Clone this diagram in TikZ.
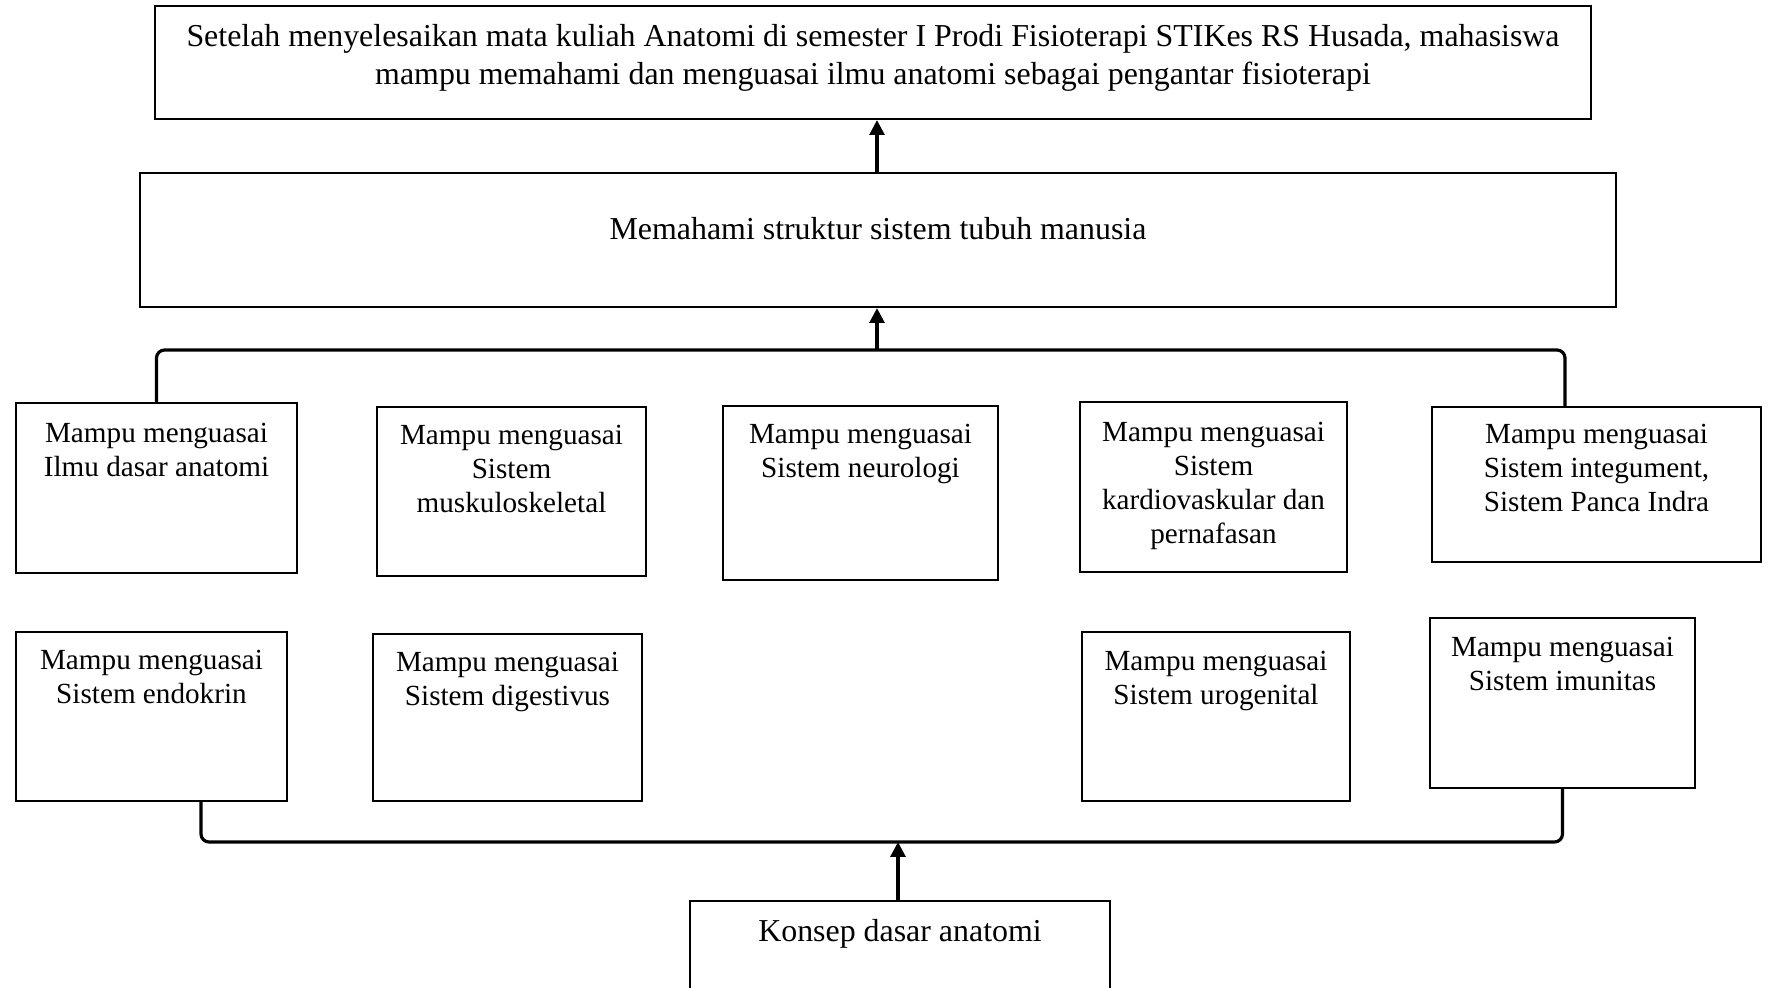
\documentclass[tikz,border=0pt]{standalone}
\usepackage{fontspec}
\setmainfont{Liberation Serif}
\usetikzlibrary{arrows.meta, positioning}

\begin{document}
\begin{tikzpicture}[x=0.01cm, y=-0.01cm,
    box/.style={draw, line width=0.6pt, inner sep=0pt},
    txt/.style={align=center, inner sep=0pt, font=\fontsize{8.3}{9.6}\selectfont},
    txtbig/.style={txt, font=\fontsize{9.07}{10.6}\selectfont},
    arr/.style={-{Triangle[length=4.2pt,width=4.2pt]}, line width=0.9pt},
    brace/.style={line width=0.9pt, rounded corners=0.8mm}]
    \useasboundingbox (0,0) rectangle (1772,987);
    \clip (0,0) rectangle (1772,987);

    % Tujuan akhir
    \node[box, minimum width=14.36cm, minimum height=1.13cm] (tujuan) at (873,62.5) {};
    \node[txtbig, below=1.9mm of tujuan.north] (tujuanT) {Setelah menyelesaikan mata kuliah Anatomi di semester I Prodi Fisioterapi STIKes RS Husada, mahasiswa\\mampu memahami dan menguasai ilmu anatomi sebagai pengantar fisioterapi};

    % Memahami struktur
    \node[box, minimum width=14.76cm, minimum height=1.34cm] (memahami) at (878,240) {};
    \node[txtbig, below=4.5mm of memahami.north] (memahamiT) {Memahami struktur sistem tubuh manusia};

    % Baris 1
    \node[box, minimum width=2.81cm, minimum height=1.70cm] (ilmu) at (156.5,488) {};
    \node[txt, below=2.1mm of ilmu.north] (ilmuT) {Mampu menguasai\\Ilmu dasar anatomi};
    \node[box, minimum width=2.69cm, minimum height=1.69cm] (musk) at (511.5,491.5) {};
    \node[txt, below=1.9mm of musk.north] (muskT) {Mampu menguasai\\Sistem\\muskuloskeletal};
    \node[box, minimum width=2.75cm, minimum height=1.74cm] (neuro) at (860.5,493) {};
    \node[txt, below=1.9mm of neuro.north] (neuroT) {Mampu menguasai\\Sistem neurologi};
    \node[box, minimum width=2.67cm, minimum height=1.70cm] (kardio) at (1213.5,487) {};
    \node[txt, below=2.1mm of kardio.north] (kardioT) {Mampu menguasai\\Sistem\\kardiovaskular dan\\pernafasan};
    \node[box, minimum width=3.29cm, minimum height=1.55cm] (integumen) at (1596.5,484.5) {};
    \node[txt, below=1.8mm of integumen.north] (integumenT) {Mampu menguasai\\Sistem integument,\\Sistem Panca Indra};

    % Baris 2
    \node[box, minimum width=2.71cm, minimum height=1.69cm] (endokrin) at (151.5,716.5) {};
    \node[txt, below=1.9mm of endokrin.north] (endokrinT) {Mampu menguasai\\Sistem endokrin};
    \node[box, minimum width=2.69cm, minimum height=1.67cm] (digestivus) at (507.5,717.5) {};
    \node[txt, below=1.9mm of digestivus.north] (digestivusT) {Mampu menguasai\\Sistem digestivus};
    \node[box, minimum width=2.68cm, minimum height=1.69cm] (urogenital) at (1216,716.5) {};
    \node[txt, below=2.0mm of urogenital.north] (urogenitalT) {Mampu menguasai\\Sistem urogenital};
    \node[box, minimum width=2.65cm, minimum height=1.70cm] (imunitas) at (1562.5,703) {};
    \node[txt, below=2.0mm of imunitas.north] (imunitasT) {Mampu menguasai\\Sistem imunitas};

    % Konsep dasar
    \node[box, minimum width=4.20cm, minimum height=1.09cm] (konsep) at (900,955.5) {};
    \node[txtbig, below=1.9mm of konsep.north] (konsepT) {Konsep dasar anatomi};

    % Kurung atas
    \coordinate (atasM) at (877,350);
    \coordinate (atasR) at (1565,350);
    \draw[brace] (ilmu.north) |- (atasR) -- (atasR |- integumen.north);
    \draw[arr] (atasM) -- (atasM |- memahami.south);
    \draw[arr] (memahami.north -| atasM) -- (atasM |- tujuan.south);

    % Kurung bawah
    \coordinate (bawahL) at (201,842);
    \coordinate (bawahM) at (898,842);
    \draw[brace] (bawahL |- endokrin.south) -- (bawahL) -| (imunitas.south);
    \draw[arr] (konsep.north -| bawahM) -- (bawahM);
\end{tikzpicture}
\end{document}
